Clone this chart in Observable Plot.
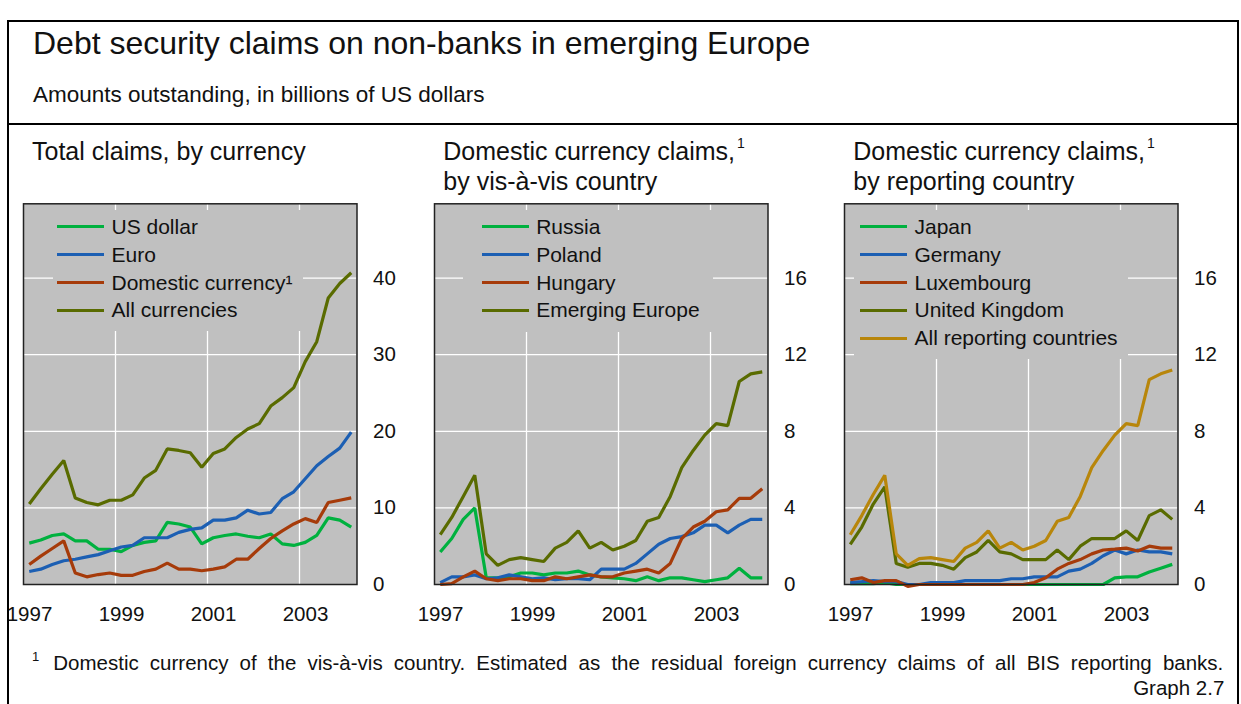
<!DOCTYPE html>
<html>
<head>
<meta charset="utf-8">
<script src="https://cdn.jsdelivr.net/npm/d3@7"></script>
<script src="https://cdn.jsdelivr.net/npm/@observablehq/plot@0.6"></script>
<style>
  body { margin: 0; background: #fff; }
  #root { position: relative; width: 1241px; height: 704px; overflow: hidden;
          font-family: "Liberation Sans", Arial, Helvetica, sans-serif; color: #111; }
  .abs { position: absolute; white-space: nowrap; line-height: 1; }
  .line { position: absolute; background: #000; }
  svg { overflow: visible; }
</style>
</head>
<body>
<div id="root"></div>
<script>
// ---------------- DATA ----------------
const quarters = ["1997Q1","1997Q2","1997Q3","1997Q4","1998Q1","1998Q2","1998Q3","1998Q4",
  "1999Q1","1999Q2","1999Q3","1999Q4","2000Q1","2000Q2","2000Q3","2000Q4",
  "2001Q1","2001Q2","2001Q3","2001Q4","2002Q1","2002Q2","2002Q3","2002Q4",
  "2003Q1","2003Q2","2003Q3","2003Q4","2004Q1"];
const yearLabels = [1997, 1999, 2001, 2003];
const gridYears = [1999, 2001, 2003];

// Panel 1: Total claims, by currency
const p1Names = ["US dollar", "Euro", "Domestic currency¹", "All currencies"];
const usDollar      = [5.4,5.8,6.4,6.6,5.7,5.7,4.6,4.6,4.3,5.1,5.5,5.7,8.1,7.9,7.5,5.3,6.1,6.4,6.6,6.3,6.1,6.6,5.3,5.1,5.5,6.4,8.7,8.4,7.5];
const euro          = [1.7,2.0,2.6,3.1,3.3,3.6,3.9,4.4,4.9,5.1,6.1,6.1,6.1,6.8,7.2,7.4,8.4,8.4,8.7,9.7,9.2,9.4,11.2,12.1,13.8,15.5,16.7,17.8,19.9];
const domesticCur   = [2.6,3.7,4.7,5.7,1.5,1.0,1.3,1.5,1.2,1.2,1.7,2.0,2.8,2.0,2.0,1.8,2.0,2.3,3.3,3.3,4.7,6.0,7.0,7.9,8.6,8.1,10.7,11.0,11.3];
const allCurrencies = [10.5,12.5,14.4,16.2,11.3,10.7,10.4,11.0,11.0,11.7,13.9,14.9,17.7,17.5,17.2,15.3,17.1,17.7,19.2,20.3,21.0,23.3,24.4,25.7,29.1,31.7,37.4,39.3,40.7];
const p1Ticks = [0, 10, 20, 30, 40];

// Panel 2: Domestic currency claims, by vis-à-vis country
const p2Names = ["Russia", "Poland", "Hungary", "Emerging Europe"];
const russia   = [1.7,2.4,3.4,4.0,0.35,0.35,0.4,0.6,0.6,0.5,0.6,0.6,0.7,0.5,0.4,0.35,0.3,0.2,0.4,0.2,0.35,0.35,0.25,0.15,0.25,0.35,0.85,0.35,0.35];
const poland   = [0.1,0.4,0.4,0.5,0.3,0.35,0.5,0.4,0.3,0.35,0.25,0.3,0.3,0.25,0.8,0.8,0.8,1.1,1.6,2.1,2.4,2.5,2.7,3.1,3.1,2.7,3.1,3.4,3.4];
const hungary  = [0.0,0.05,0.4,0.7,0.3,0.2,0.3,0.3,0.2,0.2,0.4,0.3,0.4,0.5,0.4,0.4,0.6,0.7,0.8,0.6,1.1,2.4,3.0,3.3,3.8,3.9,4.5,4.5,5.0];
const emergingEurope = [2.6,3.5,4.6,5.7,1.6,1.0,1.3,1.4,1.3,1.2,1.9,2.2,2.8,1.9,2.2,1.8,2.0,2.3,3.3,3.5,4.6,6.1,7.0,7.8,8.4,8.3,10.6,11.0,11.1];
const p2Ticks = [0, 4, 8, 12, 16];

// Panel 3: Domestic currency claims, by reporting country
const p3Names = ["Japan", "Germany", "Luxembourg", "United Kingdom", "All reporting countries"];
const japan      = [0.05,0.05,0.05,0.1,0,0,0,0,0,0,0,0,0,0,0,0,0,0,0,0,0,0,0,0.35,0.4,0.4,0.65,0.85,1.05];
const germany    = [0.1,0.15,0.2,0.15,0.15,0.0,0.0,0.1,0.1,0.1,0.2,0.2,0.2,0.2,0.3,0.3,0.4,0.4,0.4,0.7,0.8,1.1,1.5,1.8,1.6,1.8,1.7,1.7,1.6];
const luxembourg = [0.25,0.35,0.1,0.2,0.2,-0.1,0.0,0.0,0.0,0.0,0.0,0.0,0.0,0.0,0.0,0.0,0.1,0.35,0.8,1.1,1.3,1.6,1.8,1.85,1.9,1.75,2.0,1.9,1.9];
const unitedKingdom = [2.1,3.0,4.2,5.1,1.1,0.9,1.1,1.1,1.0,0.8,1.4,1.7,2.3,1.7,1.6,1.3,1.3,1.3,1.8,1.3,2.0,2.4,2.4,2.4,2.8,2.3,3.6,3.9,3.4];
const allReporting  = [2.6,3.6,4.7,5.7,1.6,1.0,1.35,1.4,1.3,1.2,1.9,2.2,2.8,1.9,2.2,1.8,2.0,2.3,3.3,3.5,4.6,6.1,7.0,7.8,8.4,8.3,10.7,11.0,11.2];
const p3Ticks = [0, 4, 8, 12, 16];

// ---------------- STYLE ----------------
const GREEN = "#00b13f", BLUE = "#1c5fb3", RUST = "#a63b0a", OLIVE = "#596b00", GOLD = "#b8860b";
const FONT = "Liberation Sans, Arial, Helvetica, sans-serif";
const root = document.getElementById("root");

// quarter -> decimal year (mid-quarter)
const qTime = quarters.map(q => +q.slice(0, 4) + (+q.slice(5) - 0.5) / 4);

function makePanel({plotLeft, names, series, colors, yMax, ticks}) {
  const mL = 30, mR = 70, mT = 13.3, mB = 45, pw = 333.5, ph = 380.7;
  const rows = [];
  series.forEach((vals, k) => vals.forEach((v, i) => rows.push({t: qTime[i], v, name: names[k]})));
  const svg = Plot.plot({
    width: mL + pw + mR, height: mT + ph + mB,
    marginLeft: mL, marginRight: mR, marginTop: mT, marginBottom: mB,
    x: {domain: [1997, 2004.25], label: null},
    y: {domain: [0, yMax], label: null},
    color: {domain: names, range: colors},
    style: {background: "transparent", fontFamily: FONT, overflow: "visible", color: "#111"},
    marks: [
      Plot.frame({fill: "#c0c0c0", stroke: null}),
      Plot.gridX(gridYears, {stroke: "#fff", strokeOpacity: 1, strokeWidth: 1.3}),
      Plot.gridY(ticks.filter(d => d > 0), {stroke: "#fff", strokeOpacity: 1, strokeWidth: 1.3}),
      Plot.line(rows, {x: "t", y: "v", z: "name", stroke: "name", strokeWidth: 3.2, strokeLinejoin: "miter", strokeLinecap: "butt"}),
      Plot.frame({stroke: "#222", strokeWidth: 1.5}),
      Plot.axisY(ticks, {anchor: "right", label: null, tickSize: 0, tickPadding: 16, fontSize: 20.5, fill: "#111", tickFormat: d => String(d)}),
      Plot.axisX(yearLabels, {anchor: "bottom", label: null, tickSize: 0, tickPadding: 22, dx: 6, fontSize: 20.5, fill: "#111", tickFormat: d => String(d)})
    ]
  });
  svg.style.position = "absolute";
  svg.style.left = (plotLeft - mL) + "px";
  svg.style.top = (203.3 - mT) + "px";
  root.appendChild(svg);
}

function makeLegend({box, swatchLeft, names, colors}) {
  const b = document.createElement("div");
  Object.assign(b.style, {position: "absolute", left: box[0] + "px", top: box[1] + "px",
    width: box[2] + "px", height: box[3] + "px", background: "#c0c0c0"});
  root.appendChild(b);
  names.forEach((n, k) => {
    const cy = 226.7 + 27.9 * k;
    const r = document.createElement("div");
    Object.assign(r.style, {position: "absolute", left: swatchLeft + "px", top: (cy - 14) + "px",
      height: "28px", display: "flex", alignItems: "center", whiteSpace: "nowrap"});
    const sw = document.createElement("span");
    Object.assign(sw.style, {display: "inline-block", width: "47px", height: "3.4px",
      background: colors[k], marginRight: "7.5px"});
    const tx = document.createElement("span");
    Object.assign(tx.style, {display: "inline-block", fontSize: "21px", lineHeight: "28px"});
    tx.textContent = n;
    r.appendChild(sw); r.appendChild(tx);
    root.appendChild(r);
  });
}

function text(str, x, baseline, fs, extra = {}) {
  const d = document.createElement("div");
  d.className = "abs";
  d.textContent = str;
  Object.assign(d.style, {left: x + "px", top: (baseline - 0.8465 * fs) + "px", fontSize: fs + "px"}, extra);
  root.appendChild(d);
  return d;
}

function panelTitle(lines, x, sup) {
  const d = document.createElement("div");
  Object.assign(d.style, {position: "absolute", left: x + "px", top: (159.3 - 21.66) + "px",
    fontSize: "25px", lineHeight: "26px", whiteSpace: "nowrap"});
  lines.forEach((l, i) => {
    const ln = document.createElement("div");
    ln.textContent = l;
    if (i === 0 && sup) {
      const s = document.createElement("span");
      s.textContent = "1";
      Object.assign(s.style, {fontSize: "14px", position: "relative", top: "-12px", marginLeft: "2px"});
      ln.appendChild(s);
    }
    d.appendChild(ln);
  });
  root.appendChild(d);
}

// ---------------- PANELS ----------------
makePanel({plotLeft: 22.7, names: p1Names, series: [usDollar, euro, domesticCur, allCurrencies],
  colors: [GREEN, BLUE, RUST, OLIVE], yMax: 49.7, ticks: p1Ticks});
makePanel({plotLeft: 433.5, names: p2Names, series: [russia, poland, hungary, emergingEurope],
  colors: [GREEN, BLUE, RUST, OLIVE], yMax: 19.88, ticks: p2Ticks});
makePanel({plotLeft: 844, names: p3Names, series: [japan, germany, luxembourg, unitedKingdom, allReporting],
  colors: [GREEN, BLUE, RUST, OLIVE, GOLD], yMax: 19.88, ticks: p3Ticks});

makeLegend({box: [53, 210, 250, 121], swatchLeft: 57, names: p1Names, colors: [GREEN, BLUE, RUST, OLIVE]});
makeLegend({box: [463, 210, 250, 121.5], swatchLeft: 481.7, names: p2Names, colors: [GREEN, BLUE, RUST, OLIVE]});
makeLegend({box: [854, 210, 274, 149], swatchLeft: 860, names: p3Names, colors: [GREEN, BLUE, RUST, OLIVE, GOLD]});

// ---------------- TEXT ----------------
text("Debt security claims on non-banks in emerging Europe", 33, 54, 32);
text("Amounts outstanding, in billions of US dollars", 33, 103, 22.5);
panelTitle(["Total claims, by currency"], 32, false);
panelTitle(["Domestic currency claims,", "by vis-à-vis country"], 443.3, true);
panelTitle(["Domestic currency claims,", "by reporting country"], 853.3, true);

text("1", 32, 661, 13);
const fn = document.createElement("div");
fn.textContent = "Domestic currency of the vis-à-vis country. Estimated as the residual foreign currency claims of all BIS reporting banks.";
Object.assign(fn.style, {position: "absolute", left: "53.3px", width: "1170px", top: (670 - 0.8465 * 20.5) + "px",
  fontSize: "20.5px", lineHeight: "1", textAlign: "justify", textAlignLast: "justify"});
root.appendChild(fn);
text("Graph 2.7", 0, 695, 20.5, {left: "auto", right: (1241 - 1224.3) + "px"});

// ---------------- FRAME ----------------
function rule(l, t, w, h) {
  const d = document.createElement("div");
  d.className = "line";
  Object.assign(d.style, {left: l + "px", top: t + "px", width: w + "px", height: h + "px"});
  root.appendChild(d);
}
rule(7.3, 20, 2, 704);           // left
rule(1237, 20, 2, 704);          // right
rule(7.3, 20, 1231.7, 2);        // top
rule(7.3, 122.5, 1231.7, 2.2);   // separator
</script>
</body>
</html>
